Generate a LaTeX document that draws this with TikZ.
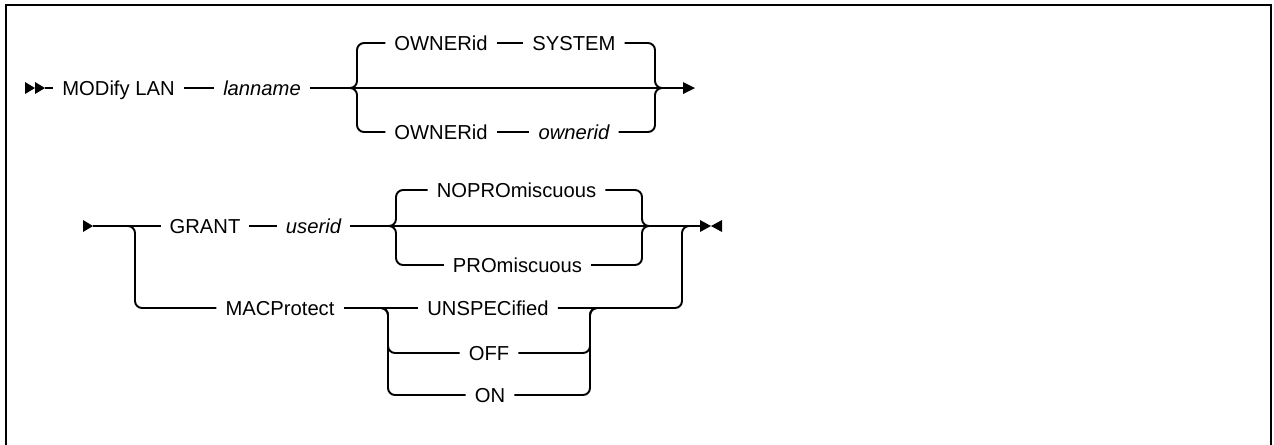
\documentclass[tikz,border=0pt]{standalone}
\usepackage{fontspec}
\setmainfont{Liberation Sans}
\usetikzlibrary{positioning}

\tikzset{
  kw/.style={inner sep=0pt, inner xsep=5pt, text height=8.2pt, text depth=0pt,
    font=\fontsize{11.5}{14}\selectfont},
  var/.style={kw, font=\fontsize{11.5}{14}\selectfont\itshape},
  rail/.style={line width=1.1pt, rounded corners=4pt},
}

\begin{document}
\begin{tikzpicture}[x=0.02cm, y=-0.02cm]
  \useasboundingbox (0,0) rectangle (1274,444);
  % frame, open at the bottom
  \draw[line width=1.1pt] (6,470) -- (6,5) -- (1271,5) -- (1271,470);

  % First line
  \node[kw] (modify) at (118.5,88) {MODify LAN};
  \node[var] (lanname) at (262,88) {lanname};
  \node[kw] (ownerA) at (441,43) {OWNERid};
  \node[kw] (system) at (574,43) {SYSTEM};
  \node[kw] (ownerB) at (441,132) {OWNERid};
  \node[var] (ownerid) at (574,132) {ownerid};
  \coordinate (startA) at (45,88);
  \coordinate (splitA) at (343,88);
  \coordinate (joinA) at (662,88);
  \coordinate (endA) at (683,88);

  \fill (25,82) -- (35,88) -- (25,94) -- cycle (35,82) -- (45,88) -- (35,94) -- cycle;
  \draw[rail] (startA) -- (modify);
  \draw[rail] (modify) -- (lanname);
  \draw[rail] (lanname) -- (endA);
  \fill (endA) ++(0,-6) -- ++(12,6) -- ++(-12,6) -- cycle;
  \draw[rail] (splitA) -| (357,43) -- (ownerA);
  \draw[rail] (ownerA) -- (system);
  \draw[rail] (system) -| (655,88) -- (joinA);
  \draw[rail] (splitA) -| (357,132) -- (ownerB);
  \draw[rail] (ownerB) -- (ownerid);
  \draw[rail] (ownerid) -| (655,88) -- (joinA);

  % Second line
  \node[kw] (grant) at (205,226) {GRANT};
  \node[var] (userid) at (313.5,226) {userid};
  \node[kw] (nopro) at (516.5,190) {NOPROmiscuous};
  \node[kw] (pro) at (517.5,265) {PROmiscuous};
  \node[kw] (macprot) at (280,308) {MACProtect};
  \node[kw] (unspec) at (488,308) {UNSPECified};
  \node[kw] (off) at (489,353) {OFF};
  \node[kw] (on) at (490,395) {ON};
  \coordinate (startB) at (93,226);
  \coordinate (splitB) at (121,226);
  \coordinate (splitC) at (389,226);
  \coordinate (joinC) at (649,226);
  \coordinate (splitD) at (381,308);
  \coordinate (joinD) at (597,308);
  \coordinate (joinE) at (690,226);
  \coordinate (endB) at (700,226);

  \fill (83,220) -- (startB) -- (83,232) -- cycle;
  \draw[rail] (startB) -- (grant);
  \draw[rail] (grant) -- (userid);
  \draw[rail] (userid) -- (endB);
  \draw[rail] (splitB) -| (135,308) -- (macprot);
  \draw[rail] (splitC) -| (396,190) -- (nopro);
  \draw[rail] (nopro) -| (642,226) -- (joinC);
  \draw[rail] (splitC) -| (396,265) -- (pro);
  \draw[rail] (pro) -| (642,226) -- (joinC);
  \draw[rail] (macprot) -- (unspec);
  \draw[rail] (unspec) -| (682,226) -- (joinE);
  \draw[rail] (splitD) -| (388,353) -- (off);
  \draw[rail] (splitD) -| (388,395) -- (on);
  \draw[rail] (off) -| (590,308) -- (joinD);
  \draw[rail] (on) -| (590,308) -- (joinD);
  \fill (endB) ++(0,-6) -- ++(11,6) -- ++(-11,6) -- cycle;
  \fill (endB) ++(22,-6) -- ++(-11,6) -- ++(11,6) -- cycle;
\end{tikzpicture}
\end{document}
